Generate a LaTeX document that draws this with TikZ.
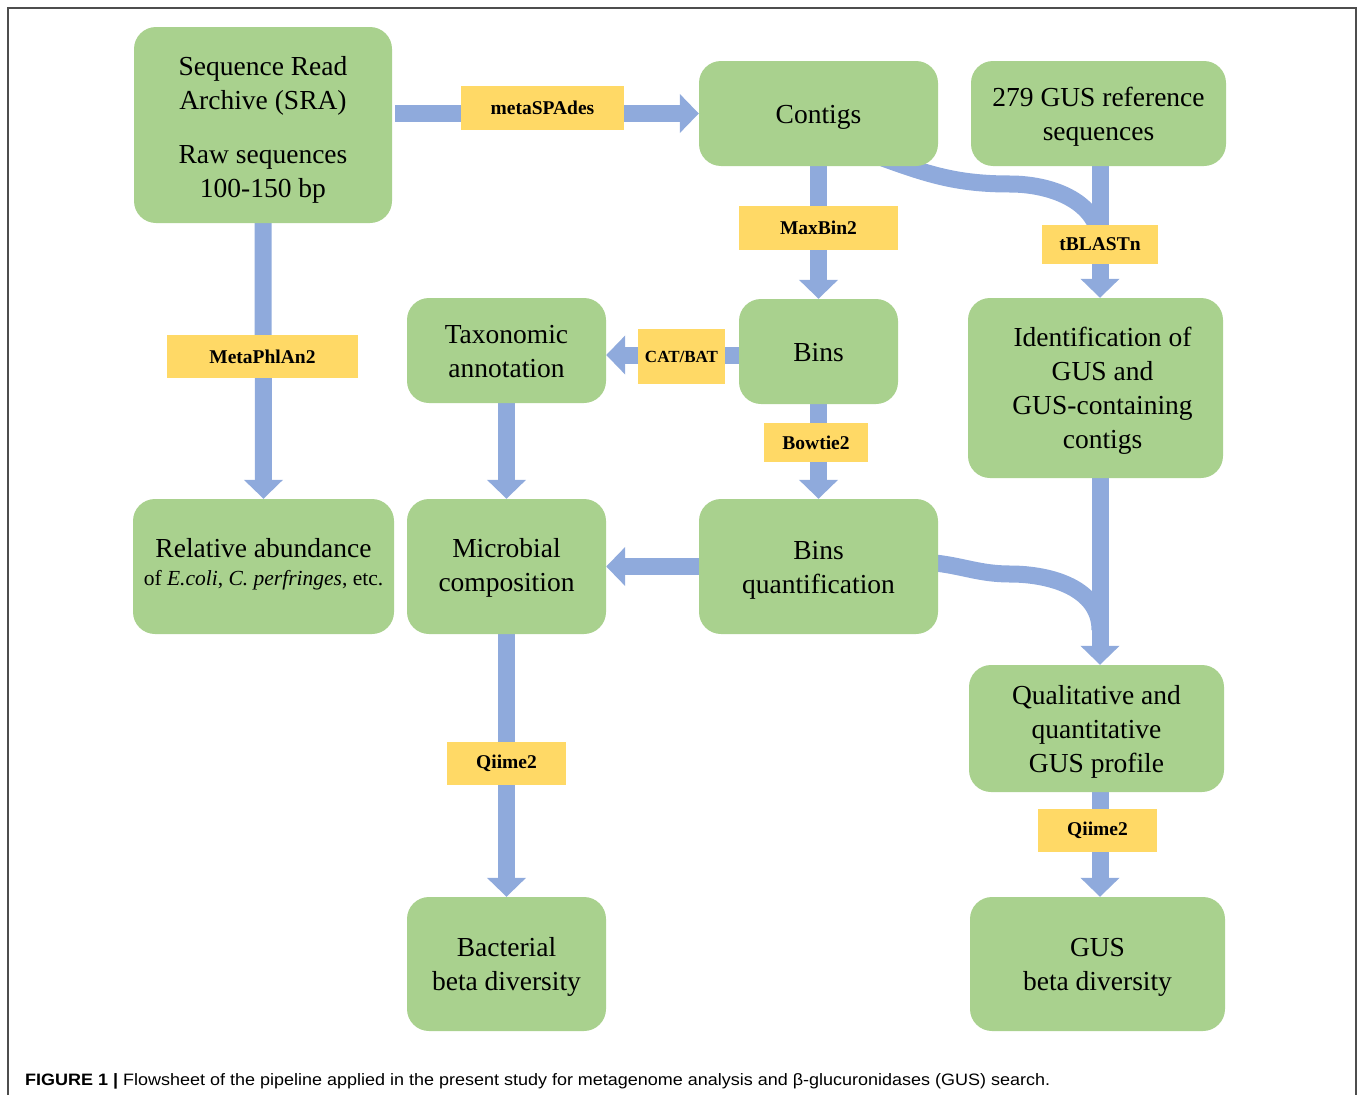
\documentclass[tikz,border=0pt]{standalone}
\usepackage{fontspec}
\setmainfont{Liberation Serif}
\newfontfamily\capfont{Liberation Sans}
\usetikzlibrary{arrows.meta,calc}
\pgfdeclarelayer{bg}
\pgfsetlayers{bg,main}
\definecolor{boxgreen}{HTML}{A9D18E}
\definecolor{arrowblue}{HTML}{8FAADC}
\definecolor{labyellow}{HTML}{FFD966}
\definecolor{framegray}{HTML}{4D4D4D}
\newcommand\topst{\rule{0pt}{26pt}}
\newcommand\botst{\rule[-6.5pt]{0pt}{1pt}}
\tikzset{
  gbox/.style={fill=boxgreen, rounded corners=22pt, align=center, inner sep=0pt,
    font=\fontsize{27.5}{34}\selectfont},
  ylab/.style={fill=labyellow, inner sep=0pt, font=\fontsize{19.5}{22}\selectfont\bfseries},
  flow/.style={draw=arrowblue, line width=17pt, -{Triangle[width=38pt,length=19pt]}},
  band/.style={draw=arrowblue, line width=17pt},
}
\begin{document}
\begin{tikzpicture}[x=1pt,y=-1pt]
\useasboundingbox (0,0) rectangle (1358,1095);
\draw[framegray, line width=1.3pt] (8,1100) -- (8,8) -- (1356,8) -- (1356,1100);

% boxes
\node[gbox, minimum width=258pt, minimum height=196pt] (sra) at (263,125)
  {\rule{0pt}{30pt}Sequence Read\\Archive (SRA)\\[20pt]Raw sequences\\100-150 bp\botst};
\node[gbox, minimum width=239pt, minimum height=105pt] (contigs) at (818.5,113.5) {\topst Contigs\botst};
\node[gbox, minimum width=255pt, minimum height=105pt] (gusref) at (1098.5,113.5) {\topst 279 GUS reference\\sequences\botst};
\node[gbox, minimum width=199pt, minimum height=105pt] (tax) at (506.5,350.5) {\topst Taxonomic\\annotation\botst};
\node[gbox, minimum width=159pt, minimum height=105pt] (bins) at (818.5,351.5) {\topst Bins\botst};
\node[gbox, minimum width=255pt, minimum height=180pt] (ident) at (1095.5,388)
  {\hspace*{14pt}\topst Identification of\\\hspace*{14pt}GUS and\\\hspace*{14pt}GUS-containing\\\hspace*{14pt}contigs\botst};
\node[gbox, minimum width=261pt, minimum height=135pt] (rel) at (263.5,566.5)
  {\topst Relative abundance\\[-6pt]{\fontsize{21.5}{26}\selectfont of \textit{E.coli}, \textit{C. perfringes}, etc.}\rule[-16pt]{0pt}{1pt}};
\node[gbox, minimum width=199pt, minimum height=135pt] (micro) at (506.5,566.5) {\topst Microbial\\composition\rule[-10.5pt]{0pt}{1pt}};
\node[gbox, minimum width=239pt, minimum height=135pt] (bquant) at (818.5,566.5) {\topst Bins\\quantification\botst};
\node[gbox, minimum width=255pt, minimum height=127pt] (qual) at (1096.5,728.5) {\topst Qualitative and\\quantitative\\GUS profile\botst};
\node[gbox, minimum width=199pt, minimum height=134pt] (bact) at (506.5,964) {\topst Bacterial\\beta diversity\botst};
\node[gbox, minimum width=255pt, minimum height=134pt] (gusbeta) at (1097.5,964) {\topst GUS\\beta diversity\botst};

% labels
\node[ylab, minimum width=163pt, minimum height=44pt] (metaspades) at (542.5,108) {metaSPAdes};
\node[ylab, minimum width=159pt, minimum height=44pt] (maxbin) at (818.5,228) {MaxBin2};
\node[ylab, minimum width=116pt, minimum height=39pt] (tblast) at (1100,244.5) {tBLASTn};
\node[ylab, minimum width=191pt, minimum height=43pt] (metaphlan) at (262.5,356.5) {MetaPhlAn2};
\node[ylab, minimum width=87pt, minimum height=55pt, font=\fontsize{17}{20}\selectfont\bfseries] (catbat) at (681.5,356.5) {CAT/BAT};
\node[ylab, minimum width=104pt, minimum height=39pt] (bowtie) at (816,442.5) {Bowtie2};
\node[ylab, minimum width=119pt, minimum height=43pt] (qiimeA) at (506.5,763.5) {Qiime2};
\node[ylab, minimum width=119pt, minimum height=43pt] (qiimeB) at (1097.5,830.5) {Qiime2};

% connectors
\begin{pgfonlayer}{bg}
\draw[flow] ($(sra.east |- contigs.west)+(3,0)$) -- (contigs.west);
\draw[flow] (contigs.south) -- (bins.north);
\draw[flow] (gusref.south -| tblast.center) -- (ident.north -| tblast.center);
\draw[band] ($(contigs.south east)+(-55,-8)$) to[out=-20,in=180] (1010,184) to[out=0,in=90] (tblast.center);
\draw[flow] (sra.south) -- (rel.north);
\draw[flow] ($(bins.west)+(0,3.5)$) -- ($(tax.east)+(0,4.5)$);
\draw[flow] (tax.south) -- (micro.north);
\draw[flow] (bins.south) -- (bquant.north);
\draw[flow] (bquant.west) -- (micro.east);
\draw[flow] (ident.south -| tblast.center) -- (qual.north -| tblast.center);
\draw[band] ($(bquant.east)+(-8,-4)$) to[out=-5,in=180] (1010,574) to[out=0,in=90] (1100,630);
\draw[flow] (micro.south) -- (bact.north);
\draw[flow] (qual.south -| tblast.center) -- (gusbeta.north -| tblast.center);
\end{pgfonlayer}

% caption
\node[anchor=west, inner sep=0pt, font=\capfont\fontsize{16.5}{20}\selectfont] (caption) at (25,1081)
  {\scalebox{1.09}[1]{\textbf{FIGURE 1 |} Flowsheet of the pipeline applied in the present study for metagenome analysis and β-glucuronidases (GUS) search.}};
\end{tikzpicture}
\end{document}
